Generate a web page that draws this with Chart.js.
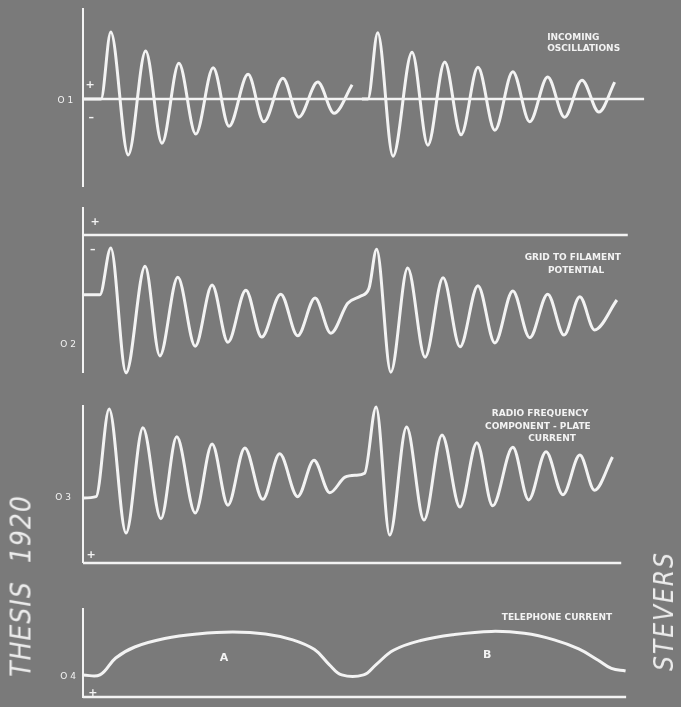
<!DOCTYPE html>
<html>
<head>
<meta charset="utf-8">
<script src="https://cdn.jsdelivr.net/npm/chart.js@4.4.1/dist/chart.umd.min.js"></script>
<style>
html, body { margin: 0; padding: 0; width: 681px; height: 707px; overflow: hidden; background: #7a7a7a; }
.panel { position: absolute; left: 0; width: 681px; }
.side { position: absolute; color: #ececec; white-space: nowrap; font-family: 'DejaVu Sans Condensed', 'DejaVu Sans'; font-stretch: condensed; font-style: italic; transform: translate(-50%, -50%) rotate(-90deg); }
</style>
</head>
<body>
<div class="panel" style="top:-4px;height:203px"><canvas id="p1"></canvas></div>
<div class="panel" style="top:195px;height:190px"><canvas id="p2"></canvas></div>
<div class="panel" style="top:393px;height:182px"><canvas id="p3"></canvas></div>
<div class="panel" style="top:596px;height:114px"><canvas id="p4"></canvas></div>
<div class="side" style="left:21px;top:586px;font-size:28px;letter-spacing:1px">THESIS&nbsp;&nbsp;1920</div>
<div class="side" style="left:664px;top:611px;font-size:26px;letter-spacing:2px">STEVERS</div>
<script>
// time axis in arbitrary units (0 = vertical axis)

// 1 - incoming oscillations (two damped wave trains, gap between them)
var incomingT = [0, 3.3, 5.1, 8.3, 11.5, 14.5, 17.6, 20.7, 23.9, 26.8, 30.3, 33.2, 36.7, 39.6, 43.1, 46.1, 49.4, 50.3,
    51.2, 52.3, 54.1, 56.9, 60.4, 63.3, 66.4, 69.4, 72.5, 75.6, 78.9, 82.0, 85.3, 88.4, 91.6, 94.7, 97.6];
var incomingV = [0, 0, 1.03, -0.86, 0.74, -0.68, 0.55, -0.54, 0.48, -0.42, 0.38, -0.35, 0.32, -0.28, 0.26, -0.22, 0.22, null,
    0, 0, 1.02, -0.88, 0.72, -0.71, 0.57, -0.55, 0.49, -0.48, 0.42, -0.35, 0.34, -0.28, 0.29, -0.2, 0.26];

// 2 - grid to filament potential
var gridT = [0, 3.1, 5.1, 7.9, 11.4, 14.1, 17.4, 20.6, 23.7, 26.6, 29.9, 32.8, 36.3, 39.4, 42.6, 45.5, 48.6, 51.0, 52.5,
    53.9, 56.5, 59.6, 62.8, 66.1, 69.2, 72.5, 75.6, 78.9, 82.0, 85.3, 88.3, 91.2, 93.9, 98.0];
var gridV = [-0.92, -0.92, -0.2, -2.12, -0.48, -1.86, -0.65, -1.71, -0.77, -1.65, -0.85, -1.57, -0.91, -1.55, -0.97, -1.51, -1.05, -0.94, -0.82,
    -0.22, -2.11, -0.51, -1.88, -0.66, -1.72, -0.78, -1.66, -0.86, -1.58, -0.91, -1.54, -0.95, -1.46, -1.0];

// 3 - radio frequency component of plate current
var plateT = [0, 2.4, 4.8, 7.9, 11.0, 14.3, 17.2, 20.6, 23.7, 26.6, 29.7, 33.0, 36.1, 39.4, 42.4, 45.3, 48.1, 50.1, 51.7,
    53.8, 56.3, 59.4, 62.6, 65.9, 69.2, 72.3, 75.2, 78.9, 81.8, 85.0, 88.1, 91.2, 93.9, 97.2];
var plateV = [1.0, 1.02, 2.37, 0.46, 2.08, 0.68, 1.94, 0.77, 1.83, 0.89, 1.77, 0.98, 1.68, 1.02, 1.58, 1.08, 1.32, 1.35, 1.38,
    2.4, 0.43, 2.09, 0.66, 1.97, 0.86, 1.85, 0.88, 1.78, 0.97, 1.71, 1.05, 1.66, 1.12, 1.63];

// 4 - telephone current (envelope A and B)
var phoneT = [0, 3.1, 6.0, 9.5, 15.0, 21.0, 27.5, 33.5, 38.5, 42.5, 45.2, 47.5, 51.5, 53.8, 57.0, 62.0, 68.0, 75.0, 81.0, 86.5, 91.0, 94.5, 97.0, 99.6];
var phoneV = [0.34, 0.34, 0.6, 0.77, 0.9, 0.97, 1.0, 0.97, 0.88, 0.73, 0.5, 0.34, 0.34, 0.5, 0.72, 0.87, 0.96, 1.01, 0.98, 0.88, 0.74, 0.57, 0.44, 0.4];

// zero lines of each panel: start and end on the time axis
var zeroEnds = [[0, 103], [0, 100], [0, 98.8], [0, 99.7]];

var ink = '#f3f3f3';

function pts(ts, vs) {
    var out = [];
    for (var i = 0; i < ts.length; i++) {
        out.push({x: ts[i], y: vs[i]});
    }
    return out;
}

// vertical axis line + hand lettering
var paperPlugin = {
    id: 'paper',
    afterDatasetsDraw: function(chart, args, opts) {
        var ctx = chart.ctx;
        var a = chart.chartArea;
        var xs = chart.scales.x, ys = chart.scales.y;
        ctx.save();
        ctx.strokeStyle = ink;
        ctx.lineWidth = 2;
        ctx.beginPath();
        ctx.moveTo(a.left, a.top);
        ctx.lineTo(a.left, a.bottom);
        ctx.stroke();
        ctx.fillStyle = ink;
        ctx.textBaseline = 'middle';
        (opts.notes || []).forEach(function(n) {
            ctx.font = n.font || 'bold 9px "DejaVu Sans"';
            ctx.textAlign = n.align || 'center';
            ctx.fillText(n.text, xs.getPixelForValue(n.t), ys.getPixelForValue(n.v));
        });
        ctx.restore();
    }
};

function makePanel(id, yMin, yMax, trace, zero, notes, smooth) {
    var ctx = document.getElementById(id).getContext('2d');
    var line = {
        data: trace,
        borderColor: ink,
        borderWidth: 3,
        pointRadius: 0,
        spanGaps: false,
        clip: false
    };
    if (smooth) {
        line.tension = 0.4;
    } else {
        line.cubicInterpolationMode = 'monotone';
    }
    return new Chart(ctx, {
        type: 'line',
        data: {
            datasets: [{
                data: pts(zero, [0, 0]),
                borderColor: ink,
                borderWidth: 2.4,
                pointRadius: 0,
                clip: false
            }, line]
        },
        options: {
            responsive: true,
            maintainAspectRatio: false,
            animation: false,
            layout: { padding: { left: 83, right: 26, top: 12, bottom: 12 } },
            scales: {
                x: { type: 'linear', display: false, min: 0, max: 105 },
                y: { display: false, min: yMin, max: yMax }
            },
            plugins: {
                legend: { display: false },
                tooltip: { enabled: false },
                paper: { notes: notes }
            }
        },
        plugins: [paperPlugin]
    });
}

var small = '9px "DejaVu Sans"';
var sign = 'bold 11px "DejaVu Sans"';

makePanel('p1', -1.354, 1.4, pts(incomingT, incomingV), zeroEnds[0], [
    {text: 'INCOMING', t: 85.2, v: 0.95, align: 'left'},
    {text: 'OSCILLATIONS', t: 85.2, v: 0.77, align: 'left'},
    {text: 'O 1', t: -1.8, v: -0.03, align: 'right', font: small},
    {text: '+', t: 1.3, v: 0.22, font: sign},
    {text: '\u2013', t: 1.5, v: -0.29, font: sign}
]);

makePanel('p2', -2.123, 0.43, pts(gridT, gridV), zeroEnds[1], [
    {text: 'GRID TO FILAMENT', t: 89.9, v: -0.35},
    {text: 'POTENTIAL', t: 90.5, v: -0.55},
    {text: 'O 2', t: -1.3, v: -1.69, align: 'right', font: small},
    {text: '+', t: 2.2, v: 0.2, font: sign},
    {text: '\u2013', t: 1.8, v: -0.23, font: sign}
]);

makePanel('p3', 0, 2.43, pts(plateT, plateV), zeroEnds[2], [
    {text: 'RADIO FREQUENCY', t: 83.9, v: 2.29},
    {text: 'COMPONENT - PLATE', t: 83.5, v: 2.09},
    {text: 'CURRENT', t: 86.1, v: 1.91},
    {text: 'O 3', t: -2.2, v: 1.0, align: 'right', font: small},
    {text: '+', t: 1.5, v: 0.12, font: sign}
]);

makePanel('p4', -0.015, 1.37, pts(phoneT, phoneV), zeroEnds[3], [
    {text: 'TELEPHONE CURRENT', t: 87.0, v: 1.22},
    {text: 'A', t: 25.9, v: 0.6, font: 'bold 11px "DejaVu Sans"'},
    {text: 'B', t: 74.2, v: 0.65, font: 'bold 11px "DejaVu Sans"'},
    {text: 'O 4', t: -1.3, v: 0.31, align: 'right', font: small},
    {text: '+', t: 1.8, v: 0.06, font: sign}
], true);
</script>
</body>
</html>
